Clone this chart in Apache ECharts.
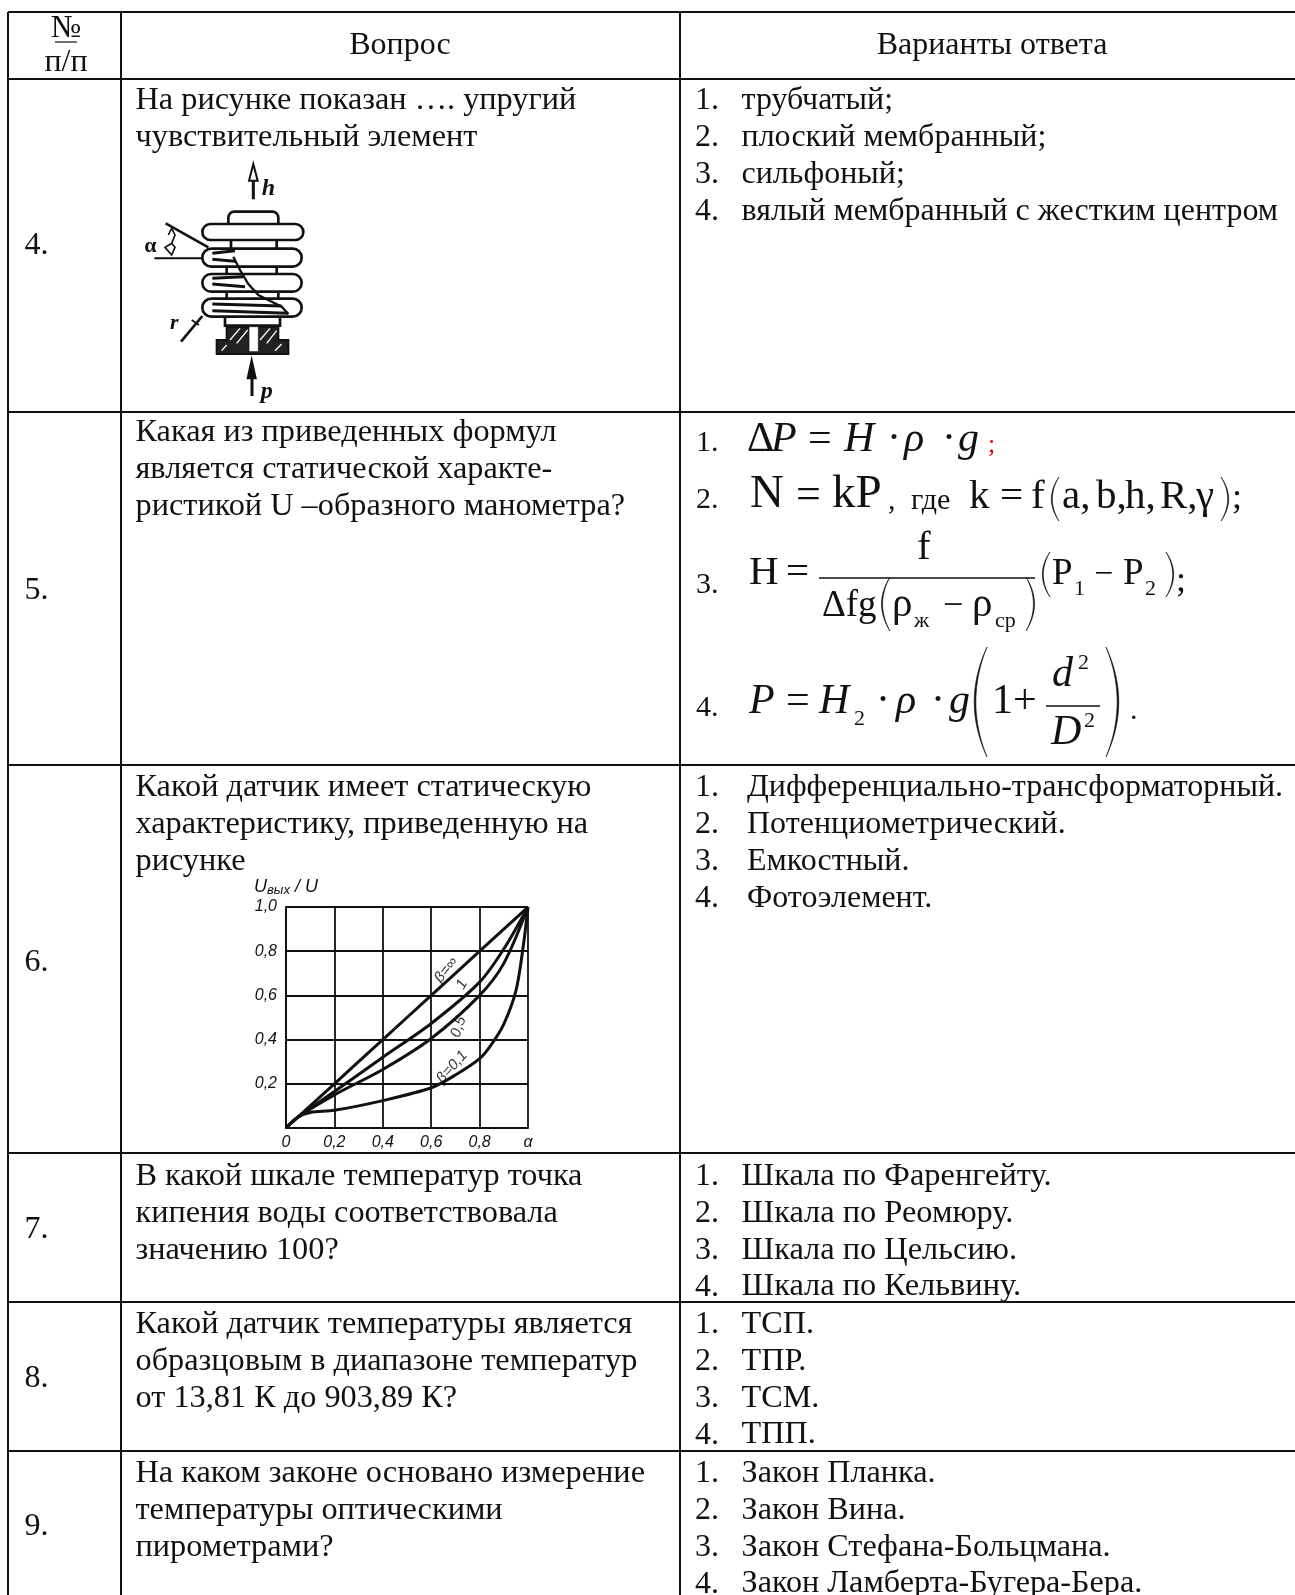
<!DOCTYPE html>
<html lang="ru">
<head>
    <meta charset="UTF-8">
    <title>Вопросы</title>
    <style>
        html, body {margin: 0; padding: 0; background: #fff;}
        #main {width: 1295px; height: 1595px;}
    </style>
</head>
<body>
<div id="main"></div>
<script src="https://cdn.jsdelivr.net/npm/echarts@6/dist/echarts.min.js"></script>
<script>
    // значения кривых
    var curveX = [0, 0.05, 0.2, 0.4, 0.6, 0.8, 0.9, 1];
    var betaInf = [0, 0.05, 0.2, 0.4, 0.6, 0.8, 0.9, 1];
    var betaOne = [0, 0.05, 0.165, 0.32, 0.473, 0.66, 0.81, 1];
    var betaHalf = [0, 0.05, 0.15, 0.265, 0.405, 0.6, 0.745, 1];
    var lowX = [0, 0.05, 0.1, 0.2, 0.4, 0.6, 0.7, 0.8, 0.85, 0.9, 0.95, 0.98, 1];
    var betaLow = [0, 0.05, 0.07, 0.08, 0.124, 0.182, 0.24, 0.314, 0.38, 0.47, 0.62, 0.82, 1];

    var xTickLabels = ['0', '0,2', '0,4', '0,6', '0,8', 'α'];
    var yTickLabels = ['', '0,2', '0,4', '0,6', '0,8', '1,0'];
    var curveLabels = ['β=∞', '1', '0,5', 'β=0,1'];
    var curveLabelX = [0.662, 0.727, 0.713, 0.686];
    var curveLabelY = [0.715, 0.65, 0.457, 0.276];

    var headers = ['Вопрос', 'Варианты ответа'];
    var rowNumbers = ['4.', '5.', '6.', '7.', '8.', '9.'];
    var questions = [
        ['На рисунке показан …. упругий', 'чувствительный элемент'],
        ['Какая из приведенных формул', 'является статической характе-', 'ристикой U –образного манометра?'],
        ['Какой датчик имеет статическую', 'характеристику, приведенную на', 'рисунке'],
        ['В какой шкале температур точка', 'кипения воды соответствовала', 'значению 100?'],
        ['Какой датчик температуры является', 'образцовым в диапазоне температур', 'от 13,81 К до 903,89 К?'],
        ['На каком законе основано измерение', 'температуры оптическими', 'пирометрами?']
    ];
    var answers = [
        ['трубчатый;', 'плоский мембранный;', 'сильфоный;', 'вялый мембранный с жестким центром'],
        [],
        ['Дифференциально-трансформаторный.', 'Потенциометрический.', 'Емкостный.', 'Фотоэлемент.'],
        ['Шкала по Фаренгейту.', 'Шкала по Реомюру.', 'Шкала по Цельсию.', 'Шкала по Кельвину.'],
        ['ТСП.', 'ТПР.', 'ТСМ.', 'ТПП.'],
        ['Закон Планка.', 'Закон Вина.', 'Закон Стефана-Больцмана.', 'Закон Ламберта-Бугера-Бера.']
    ];

    var ink = '#111';
    var serif = '"Liberation Serif", "Times New Roman", serif';
    var bodySize = 32;
    var questionSize = 32.3;
    var answerSize = [32, 32, 32, 32.4, 32.2, 32.2];
    var lineStep = 36.8;

    // разметка таблицы
    var colX = [8, 121, 680];
    var lineY = [12, 79, 412, 765, 1153, 1302, 1451];
    var rowBase = [111.5, 443.5, 798.5, 1187.5, 1335.5, 1484.5];
    var numberBase = [256.5, 601.5, 973.5, 1240.5, 1389, 1537.5];
    var answerX = [741.5, 0, 747, 741.5, 741.5, 741.5];

    var elements = [];

    function line(x1, y1, x2, y2, w) {
        return {
            type: 'line',
            shape: {x1: x1, y1: y1, x2: x2, y2: y2},
            style: {stroke: ink, lineWidth: w || 2}
        };
    }

    // x и base - левый край и базовая линия текста
    function text(str, x, base, size, opts) {
        opts = opts || {};
        return {
            type: 'text',
            x: x,
            y: base - size * 0.3375,
            style: {
                text: str,
                fill: opts.color || ink,
                font: (opts.italic ? 'italic ' : '') + size + 'px ' + serif,
                align: opts.align || 'left',
                verticalAlign: 'middle'
            }
        };
    }

    // скобка формулы, dir = 1 открывающая, -1 закрывающая
    function paren(x, top, bottom, w, dir) {
        var pts = [];
        var t;
        var inner = x + dir * w;
        for (t = 0; t <= 1.001; t += 0.05) {
            pts.push([inner - dir * w * 1.55 * 2 * t * (1 - t) * 1.1, top + (bottom - top) * t]);
        }
        for (t = 1; t >= -0.001; t -= 0.05) {
            pts.push([inner - dir * w * 1.35 * 2 * t * (1 - t) * 1.1, top + (bottom - top) * t]);
        }
        return {
            type: 'polygon',
            shape: {points: pts},
            style: {fill: ink, stroke: ink, lineWidth: 0.6}
        };
    }

    // линии таблицы
    lineY.forEach(function (y) {
        elements.push(line(colX[0], y, 1295, y));
    });
    colX.forEach(function (x) {
        elements.push(line(x, lineY[0], x, 1595));
    });

    // шапка
    elements.push(text('№', 66, 39, bodySize, {align: 'center'}));
    elements.push(line(55, 42, 77, 42, 1.2));
    elements.push(text('п/п', 66, 73, bodySize, {align: 'center'}));
    elements.push(text(headers[0], 400, 56, bodySize, {align: 'center'}));
    elements.push(text(headers[1], 992, 56, bodySize, {align: 'center'}));

    rowNumbers.forEach(function (num, i) {
        elements.push(text(num, 24.5, numberBase[i], bodySize));
        questions[i].forEach(function (str, j) {
            elements.push(text(str, 135.5, rowBase[i] + j * lineStep, questionSize));
        });
        answers[i].forEach(function (str, j) {
            elements.push(text((j + 1) + '.', 695, rowBase[i] + j * lineStep, bodySize));
            elements.push(text(str, answerX[i], rowBase[i] + j * lineStep, answerSize[i]));
        });
    });

    // формулы пятого вопроса
    var I = {italic: true};
    [
        ['1.', 696, 453, 30], ['Δ', 747, 454, 42], ['P', 771, 454, 42, I], ['=', 808, 454, 42],
        ['H', 844, 454, 42, I], ['·', 887, 454, 42], ['ρ', 904, 454, 42, I], ['·', 942, 454, 42],
        ['g', 958, 454, 42, I], [';', 988, 454, 26, {color: '#e00000'}],

        ['2.', 696, 510, 30], ['N', 750, 511, 47], ['=', 796, 511, 44], ['kP', 832, 511, 47],
        [',', 888, 511, 30], ['где', 911, 511, 30], ['k', 969, 511, 41], ['=', 1000, 511, 41],
        ['f', 1031, 511, 41], ['a,', 1062, 511, 41], ['b,', 1096, 511, 41], ['h,', 1125, 511, 41],
        ['R,', 1160, 511, 41], ['γ', 1196, 511, 41], [';', 1232, 511, 36],

        ['3.', 696, 595, 30], ['H', 749, 587, 41], ['=', 786, 587, 41], ['f', 917, 562, 41],
        ['Δfg', 822, 619, 37], ['ρ', 892, 619, 41], ['ж', 914, 629, 22], ['−', 943, 619, 36],
        ['ρ', 972, 619, 41], ['ср', 995, 629, 22],
        ['P', 1052, 587, 37], ['1', 1074, 597, 22], ['−', 1094, 587, 34], ['P', 1123, 587, 37],
        ['2', 1145, 597, 22], [';', 1176, 594, 36],

        ['4.', 696, 718, 30], ['P', 749, 716, 42, I], ['=', 786, 716, 42], ['H', 819, 716, 42, I],
        ['2', 854, 727, 22], ['·', 876, 716, 42], ['ρ', 896, 716, 42, I], ['·', 931, 716, 42],
        ['g', 949, 716, 42, I], ['1', 992, 716, 42], ['+', 1013, 716, 42], ['d', 1052, 689, 42, I],
        ['2', 1078, 671, 22], ['D', 1051, 747, 42, I], ['2', 1084, 729, 22], ['.', 1130, 721, 30]
    ].forEach(function (p) {
        elements.push(text(p[0], p[1], p[2], p[3], p[4]));
    });
    elements.push(paren(1050, 477, 521, 9, 1));
    elements.push(paren(1230, 477, 521, 9, -1));
    elements.push(line(819, 578, 1035, 578, 1.6));
    elements.push(paren(880, 577, 631, 10, 1));
    elements.push(paren(1036, 577, 631, 10, -1));
    elements.push(paren(1041, 552, 597, 9, 1));
    elements.push(paren(1175, 552, 597, 9, -1));
    elements.push(paren(972, 647, 757, 15, 1));
    elements.push(paren(1121, 647, 757, 15, -1));
    elements.push(line(1046, 706, 1100, 706, 1.6));

    // рисунок сильфона, координаты в масштабе увеличенного фрагмента
    function pill(x, y, w, h, r) {
        return {
            type: 'rect',
            shape: {x: x, y: y, width: w, height: h, r: r === undefined ? h / 2 : r},
            style: {stroke: ink, lineWidth: 8, fill: '#fff'}
        };
    }
    function stroke(pts, w, color) {
        return {type: 'polyline', shape: {points: pts}, style: {stroke: color || ink, lineWidth: w || 8, fill: 'none'}};
    }
    function solid(pts, fill) {
        return {type: 'polygon', shape: {points: pts}, style: {stroke: ink, lineWidth: 6, fill: fill || ink}};
    }
    function mark(str, x, y, size, italic) {
        return {
            type: 'text',
            x: x,
            y: y,
            style: {
                text: str,
                fill: ink,
                font: (italic ? 'italic ' : '') + 'bold ' + size + 'px ' + serif,
                align: 'center',
                verticalAlign: 'middle'
            }
        };
    }
    var bellows = [
        solid([[385, 12], [372, 62], [398, 62]], '#fff'),
        stroke([[385, 62], [385, 118]], 9),
        mark('h', 430, 86, 72, true),
        pill(310, 155, 150, 60, 18),
        stroke([[318, 240], [318, 265]]),
        stroke([[455, 240], [455, 265]]),
        pill(232, 192, 303, 48),
        pill(305, 310, 150, 40, 0),
        pill(305, 385, 155, 40, 0),
        pill(232, 266, 298, 54),
        pill(232, 342, 298, 53),
        pill(232, 416, 298, 54),
        stroke([[300, 470], [300, 497], [465, 497], [465, 470]]),
        stroke([[262, 280], [330, 272]], 9),
        stroke([[262, 298], [330, 304]], 9),
        stroke([[262, 355], [355, 350]], 9),
        stroke([[262, 372], [360, 380]], 9),
        stroke([[262, 432], [470, 438]], 9),
        stroke([[262, 452], [490, 460]], 9),
        stroke([[325, 290], [345, 330], [370, 372], [400, 405], [470, 440], [490, 462]], 7),
        solid([[305, 500], [460, 500], [460, 540], [490, 540], [490, 582], [275, 582], [275, 540], [305, 540]], '#222'),
        stroke([[315, 540], [345, 505]], 4, '#fff'),
        stroke([[335, 550], [368, 510]], 4, '#fff'),
        stroke([[405, 540], [435, 505]], 4, '#fff'),
        stroke([[425, 550], [455, 512]], 4, '#fff'),
        stroke([[290, 572], [305, 555]], 4, '#fff'),
        stroke([[450, 572], [470, 552]], 4, '#fff'),
        {type: 'rect', shape: {x: 372, y: 500, width: 28, height: 75}, style: {fill: '#fff', stroke: ink, lineWidth: 2}},
        stroke([[122, 190], [250, 262]], 8),
        stroke([[88, 295], [232, 295]], 6),
        stroke([[130, 225], [140, 205], [150, 225], [140, 250], [120, 262], [140, 285], [150, 262], [140, 250]], 5),
        mark('α', 76, 260, 66, false),
        mark('r', 148, 490, 66, true),
        stroke([[168, 545], [232, 468]], 8),
        stroke([[200, 480], [222, 495]], 5),
        solid([[380, 600], [368, 655], [392, 655]]),
        stroke([[381, 655], [381, 708]], 9),
        mark('p', 425, 695, 72, true)
    ];
    elements.push({
        type: 'group',
        x: 125,
        y: 160,
        scaleX: 1 / 3,
        scaleY: 1 / 3,
        children: bellows
    });

    var curves = [curveX, curveX, curveX, lowX];
    var values = [betaInf, betaOne, betaHalf, betaLow];
    var labelRotate = [52, 60, 72, 48];

    var series = values.map(function (vals, i) {
        return {
            type: 'line',
            data: vals.map(function (v, j) {
                return [curves[i][j], v];
            }),
            smooth: 0.3,
            symbol: 'none',
            lineStyle: {color: ink, width: 3}
        };
    });
    series.push({
        type: 'scatter',
        symbolSize: 0,
        data: curveLabels.map(function (name, i) {
            return {
                value: [curveLabelX[i], curveLabelY[i]],
                label: {
                    show: true,
                    position: 'inside',
                    formatter: name,
                    rotate: labelRotate[i],
                    color: '#000',
                    fontFamily: '"Liberation Sans", sans-serif',
                    fontStyle: 'italic',
                    fontSize: 15
                }
            };
        })
    });

    var tickFont = {
        color: ink,
        fontFamily: '"Liberation Sans", sans-serif',
        fontStyle: 'italic',
        fontSize: 16
    };
    var gridLine = {show: true, lineStyle: {color: ink, width: 1.8, type: 'solid'}};

    var chart = echarts.init(document.getElementById('main'));
    chart.setOption({
        backgroundColor: '#fff',
        animation: false,
        grid: {left: 286, top: 907, width: 242, height: 221},
        xAxis: {
            type: 'value',
            min: 0,
            max: 1,
            interval: 0.2,
            axisLine: {show: true, onZero: false, lineStyle: {color: ink, width: 2}},
            axisTick: {show: false},
            splitLine: gridLine,
            axisLabel: Object.assign({
                margin: 7,
                formatter: function (v, i) {
                    return xTickLabels[i];
                }
            }, tickFont)
        },
        yAxis: {
            type: 'value',
            min: 0,
            max: 1,
            interval: 0.2,
            name: '{u|U}{s|вых}{u| / U}',
            nameLocation: 'end',
            nameGap: 10,
            nameTextStyle: {
                rich: {
                    u: {fontFamily: '"Liberation Sans", sans-serif', fontStyle: 'italic', fontSize: 18, color: ink},
                    s: {fontFamily: '"Liberation Sans", sans-serif', fontStyle: 'italic', fontSize: 13, color: ink, verticalAlign: 'bottom', padding: [8, 0, 0, 0]}
                }
            },
            axisLine: {show: true, onZero: false, lineStyle: {color: ink, width: 2}},
            axisTick: {show: false},
            splitLine: gridLine,
            axisLabel: Object.assign({
                margin: 9,
                formatter: function (v, i) {
                    return yTickLabels[i];
                }
            }, tickFont)
        },
        series: series,
        graphic: {elements: elements}
    });
</script>
</body>
</html>
